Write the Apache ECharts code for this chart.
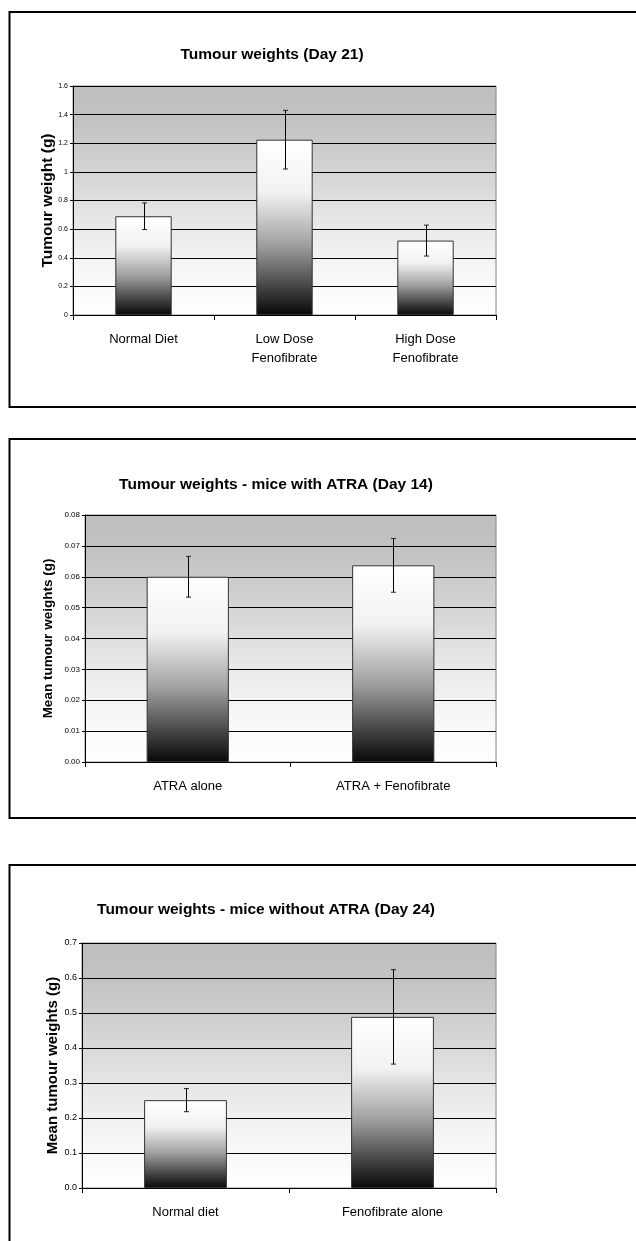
<!DOCTYPE html>
<html>
<head>
<meta charset="utf-8">
<script src="https://cdn.jsdelivr.net/npm/echarts@6/dist/echarts.min.js"></script>
<style>
html,body{margin:0;padding:0;background:#fff;}
#chart{width:636px;height:1241px;}
</style>
</head>
<body>
<div id="chart"></div>
<script>
// ---- Data ----
const day21Title = 'Tumour weights (Day 21)';
const day21Categories = ['Normal Diet', 'Low Dose\nFenofibrate', 'High Dose\nFenofibrate'];
const day21Means = [0.69, 1.225, 0.52];
const day21Errors = [0.093, 0.205, 0.108];

const atraTitle = 'Tumour weights - mice with ATRA (Day 14)';
const atraCategories = ['ATRA alone', 'ATRA + Fenofibrate'];
const atraMeans = [0.0600, 0.0637];
const atraErrors = [0.0066, 0.0087];

const noAtraTitle = 'Tumour weights - mice without ATRA (Day 24)';
const noAtraCategories = ['Normal diet', 'Fenofibrate alone'];
const noAtraMeans = [0.251, 0.489];
const noAtraErrors = [0.033, 0.135];

const FONT = '"Liberation Sans", Arial, sans-serif';

const plotBg = {type:'linear', x:0, y:0, x2:0, y2:1, colorStops:[
  {offset:0, color:'#bebebe'}, {offset:0.15, color:'#c2c2c2'}, {offset:0.4, color:'#d6d6d6'},
  {offset:0.6, color:'#e8e8e8'}, {offset:0.8, color:'#f6f6f6'}, {offset:1, color:'#ffffff'}]};
const barFill = {type:'linear', x:0, y:0, x2:0, y2:1, colorStops:[
  {offset:0, color:'#ffffff'}, {offset:0.3, color:'#f2f2f2'}, {offset:0.6, color:'#a0a0a0'},
  {offset:0.85, color:'#404040'}, {offset:1, color:'#080808'}]};

function errData(means, errs){
  return means.map((m,i)=>[i, m-errs[i], m+errs[i]]);
}
function errRender(params, api){
  const top = api.coord([api.value(0), api.value(2)]);
  const bot = api.coord([api.value(0), api.value(1)]);
  const x = Math.round(top[0]) + 0.5;
  const c = 2.5;
  return {type:'group', children:[
    {type:'line', shape:{x1:x, y1:top[1], x2:x, y2:bot[1]}, style:{stroke:'#000', lineWidth:1}},
    {type:'line', shape:{x1:x-c, y1:top[1], x2:x+c, y2:top[1]}, style:{stroke:'#222', lineWidth:1}},
    {type:'line', shape:{x1:x-c, y1:bot[1], x2:x+c, y2:bot[1]}, style:{stroke:'#222', lineWidth:1}}
  ]};
}

function yAxisCfg(idx, max, interval, fmt, fontSize, name, nameSize, nameGap){
  return {
    type:'value', gridIndex:idx, min:0, max:max, interval:interval,
    name:name, nameLocation:'middle', nameGap:nameGap, nameRotate:90, nameMoveOverlap:false,
    nameTextStyle:{fontFamily:FONT, fontWeight:'bold', fontSize:nameSize, color:'#000'},
    axisLine:{show:true, lineStyle:{color:'#000', width:1}},
    axisTick:{show:true, length:3, lineStyle:{color:'#000'}},
    axisLabel:{fontFamily:FONT, fontSize:fontSize, color:'#000', margin:5, formatter:fmt},
    splitLine:{show:true, lineStyle:{color:'#000', width:1}}
  };
}
function xAxisCfg(idx, cats){
  return {
    type:'category', gridIndex:idx, data:cats,
    axisLine:{show:true, lineStyle:{color:'#000', width:1}},
    axisTick:{show:true, length:5, alignWithLabel:false, lineStyle:{color:'#000'}},
    axisLabel:{fontFamily:FONT, fontSize:13, color:'#000', margin:15, lineHeight:19, interval:0},
    splitLine:{show:false}
  };
}

const titleStyle = {fontFamily:FONT, fontWeight:'bold', fontSize:15.5, color:'#000'};
const option = {
  backgroundColor:'#fff',
  animation:false,
  title:[
    {text:day21Title, left:267, top:42, textAlign:'center', textStyle:titleStyle},
    {text:atraTitle, left:271, top:472, textAlign:'center', textStyle:titleStyle},
    {text:noAtraTitle, left:261, top:897, textAlign:'center', textStyle:titleStyle}
  ],
  graphic:[
    {type:'rect', shape:{x:9.5, y:12, width:640, height:395}, style:{fill:null, stroke:'#000', lineWidth:2}, z:100},
    {type:'rect', shape:{x:9.5, y:439, width:640, height:379}, style:{fill:null, stroke:'#000', lineWidth:2}, z:100},
    {type:'rect', shape:{x:9.5, y:865, width:640, height:400}, style:{fill:null, stroke:'#000', lineWidth:2}, z:100}
  ],
  grid:[
    {left:73, top:86, width:423, height:229, show:true, backgroundColor:plotBg, borderColor:'#888', borderWidth:1},
    {left:85, top:515, width:411, height:247, show:true, backgroundColor:plotBg, borderColor:'#888', borderWidth:1},
    {left:82, top:943, width:414, height:245, show:true, backgroundColor:plotBg, borderColor:'#888', borderWidth:1}
  ],
  xAxis:[ xAxisCfg(0, day21Categories), xAxisCfg(1, atraCategories), xAxisCfg(2, noAtraCategories) ],
  yAxis:[
    yAxisCfg(0, 1.6, 0.2, v=>String(Math.round(v*10)/10), 7, 'Tumour weight (g)', 15.5, 17),
    yAxisCfg(1, 0.08, 0.01, v=>v.toFixed(2), 8, 'Mean tumour weights (g)', 13.5, 30),
    yAxisCfg(2, 0.7, 0.1, v=>v.toFixed(1), 9, 'Mean tumour weights (g)', 15, 22)
  ],
  series:[
    {type:'bar', xAxisIndex:0, yAxisIndex:0, data:day21Means, barWidth:'40%', itemStyle:{color:barFill, borderColor:'#333', borderWidth:1}},
    {type:'bar', xAxisIndex:1, yAxisIndex:1, data:atraMeans, barWidth:'40%', itemStyle:{color:barFill, borderColor:'#333', borderWidth:1}},
    {type:'bar', xAxisIndex:2, yAxisIndex:2, data:noAtraMeans, barWidth:'40%', itemStyle:{color:barFill, borderColor:'#333', borderWidth:1}},
    {type:'custom', xAxisIndex:0, yAxisIndex:0, data:errData(day21Means, day21Errors), renderItem:errRender, z:10},
    {type:'custom', xAxisIndex:1, yAxisIndex:1, data:errData(atraMeans, atraErrors), renderItem:errRender, z:10},
    {type:'custom', xAxisIndex:2, yAxisIndex:2, data:errData(noAtraMeans, noAtraErrors), renderItem:errRender, z:10}
  ]
};
const chart = echarts.init(document.getElementById('chart'), null, {renderer:'canvas'});
chart.setOption(option);
</script>
</body>
</html>
